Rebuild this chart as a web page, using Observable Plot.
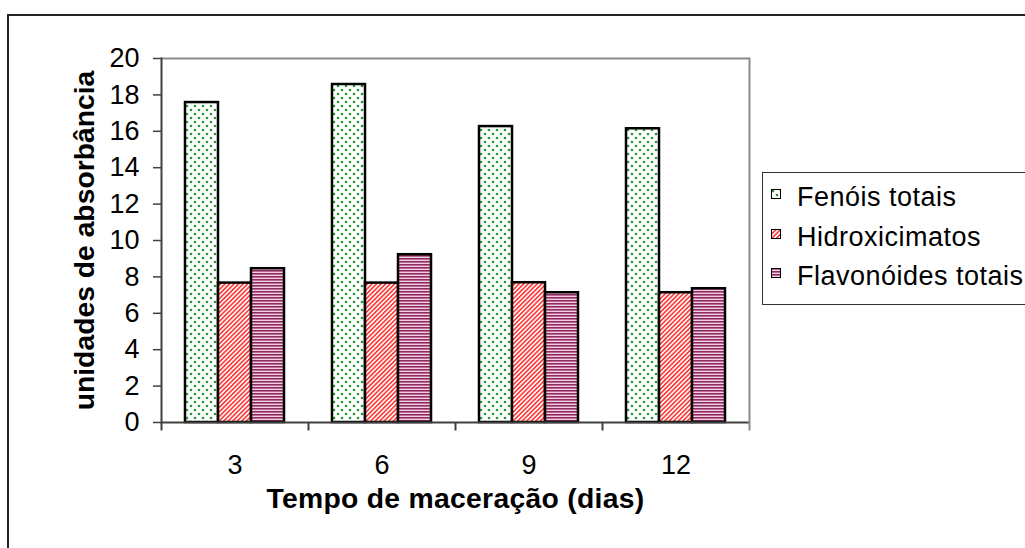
<!DOCTYPE html>
<html><head><meta charset="utf-8">
<script src="https://cdn.jsdelivr.net/npm/d3@7"></script>
<script src="https://cdn.jsdelivr.net/npm/@observablehq/plot@0.6"></script>
<style>
html,body{margin:0;padding:0;background:#fff;overflow:hidden;width:1025px;height:548px;}
#wrap{position:relative;width:1025px;height:548px;overflow:hidden;font-family:"Liberation Sans",Arial,sans-serif;}
#border{position:absolute;left:7px;top:14px;width:1100px;height:600px;border:2px solid #222;box-sizing:border-box;}
#chart{position:absolute;left:0;top:0;}
#legend{position:absolute;left:762px;top:172px;width:420px;height:133px;border:1px solid #333;border-right:none;box-sizing:border-box;background:#fff;}
.item{position:absolute;left:34px;font-size:27px;line-height:27px;white-space:nowrap;color:#000;letter-spacing:0.5px;}
.sw{position:absolute;left:8px;width:10px;height:10px;}
svg [aria-label="y-axis label"] text, svg [aria-label="fx-axis label"] text{font-weight:bold;font-size:28.3px;}
svg [aria-label="fx-axis label"] text{letter-spacing:0.3px;}
</style></head>
<body>
<svg width="0" height="0" style="position:absolute">
<defs>
<pattern id="pFen" patternUnits="userSpaceOnUse" width="8" height="8">
<rect width="8" height="8" fill="#fff"/>
<circle cx="2" cy="2" r="1.35" fill="#2a962f"/>
<circle cx="6" cy="6" r="1.35" fill="#2a962f"/>
</pattern>
<pattern id="pHid" patternUnits="userSpaceOnUse" width="3.2" height="3.2" patternTransform="rotate(45)">
<rect width="3.2" height="3.2" fill="#fff4f4"/>
<rect width="1.5" height="3.2" fill="#ff3030"/>
</pattern>
<pattern id="pFla" patternUnits="userSpaceOnUse" width="3" height="3">
<rect width="3" height="3" fill="#f0d0e0"/>
<rect width="3" height="1.6" fill="#922a62"/>
</pattern>
</defs>
</svg>
<div id="wrap">
<div id="border"></div>
<div id="chart"></div>
<div id="legend"></div>
</div>
<script>
const times = ["3", "6", "9", "12"];
const series = ["Fenóis totais", "Hidroxicimatos", "Flavonóides totais"];
const fenois = [17.58, 18.57, 16.26, 16.14];
const hidroxi = [7.66, 7.66, 7.68, 7.13];
const flavon = [8.45, 9.22, 7.13, 7.35];
const yTicks = [0, 2, 4, 6, 8, 10, 12, 14, 16, 18, 20];
const xTitle = "Tempo de maceração (dias)";
const yTitle = "unidades de absorbância";
const patterns = ["url(#pFen)", "url(#pHid)", "url(#pFla)"];

const valuesBySeries = [fenois, hidroxi, flavon];
const rows = times.flatMap((t, i) => series.map((s, j) => ({t, s, v: valuesBySeries[j][i]})));

const tickSym = {draw(ctx) { ctx.moveTo(0, 0); ctx.lineTo(0, 8); }};
const axisColor = "#404040";
const frameGray = "#8c8c8c";

const chart = Plot.plot({
  width: 1025, height: 548,
  marginTop: 58, marginBottom: 126, marginLeft: 160, marginRight: 275,
  style: {fontFamily: '"Liberation Sans", Arial, sans-serif', fontSize: "27px", color: "#000", background: "transparent", overflow: "visible"},
  fx: {domain: times, padding: 0},
  x: {domain: series, paddingInner: 0, paddingOuter: 0.7125, axis: null},
  y: {domain: [0, 20]},
  color: {domain: series, range: patterns},
  marks: [
    Plot.ruleY([20], {stroke: frameGray, strokeWidth: 2}),
    Plot.barY(rows, {fx: "t", x: "s", y: "v", fill: "s", stroke: "#000", strokeWidth: 2.5}),
    Plot.ruleY([0], {stroke: axisColor, strokeWidth: 2}),
    Plot.frame({anchor: "left", facetAnchor: "left", stroke: axisColor, strokeWidth: 2}),
    Plot.frame({anchor: "right", facetAnchor: "right", stroke: frameGray, strokeWidth: 2}),
    Plot.dot([0], {x: null, y: null, frameAnchor: "bottom-left", symbol: tickSym, stroke: axisColor, strokeWidth: 2, fill: "none"}),
    Plot.dot([0], {x: null, y: null, frameAnchor: "bottom-right", facetAnchor: "right", symbol: tickSym, stroke: frameGray, strokeWidth: 2, fill: "none"}),
    Plot.axisY(yTicks, {anchor: "left", tickSize: 8, tickPadding: 14, fontSize: 27, stroke: axisColor, strokeWidth: 1.5,
      label: yTitle, labelAnchor: "center", labelArrow: "none", labelOffset: 88}),
    Plot.axisFx({anchor: "bottom", tickSize: 0, tickPadding: 32, fontSize: 27,
      label: xTitle, labelAnchor: "center", labelArrow: "none", labelOffset: 85})
  ]
});
document.getElementById("chart").appendChild(chart);

// legend
const legend = document.getElementById("legend");
const itemTops = [11, 51, 90];
const swTops = [16, 56, 95];
series.forEach((s, j) => {
  const sw = document.createElementNS("http://www.w3.org/2000/svg", "svg");
  sw.setAttribute("class", "sw");
  sw.setAttribute("width", 10); sw.setAttribute("height", 10);
  sw.style.top = swTops[j] + "px";
  sw.innerHTML = `<rect x="0.5" y="0.5" width="9" height="9" fill="${patterns[j]}" stroke="#000" stroke-width="1"/>`;
  legend.appendChild(sw);
  const d = document.createElement("div");
  d.className = "item";
  d.style.top = itemTops[j] + "px";
  d.textContent = s;
  legend.appendChild(d);
});
</script>
</body></html>
